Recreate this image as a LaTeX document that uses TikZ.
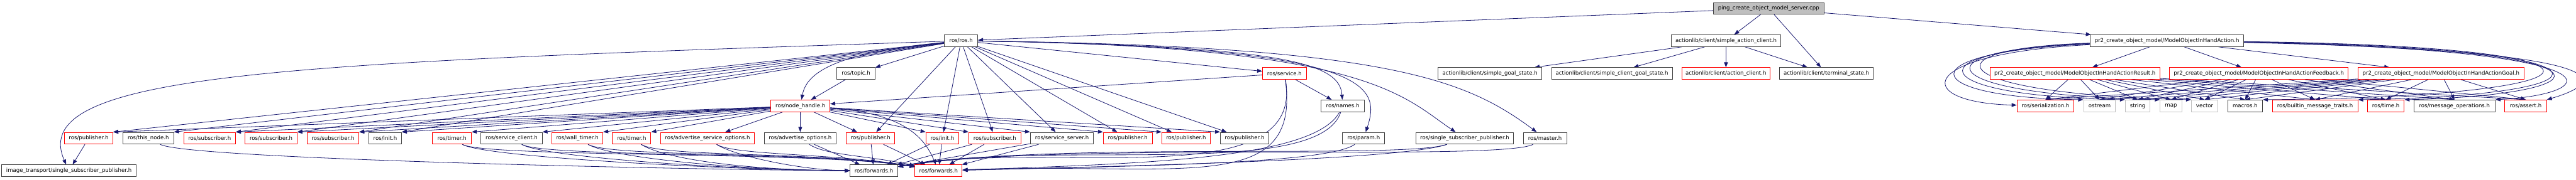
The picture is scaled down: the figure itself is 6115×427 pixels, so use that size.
\documentclass[tikz,border=0pt]{standalone}
\usepackage{fontspec}
\newfontfamily\djv{DejaVu Sans}
\usetikzlibrary{arrows.meta,backgrounds}
\definecolor{edgec}{HTML}{191970}
\definecolor{bred}{HTML}{FF0000}
\definecolor{bblk}{HTML}{404040}
\definecolor{bgry}{HTML}{BFBFBF}
\newcommand\mk[6]{\node[#5, minimum width=#4pt] (#1) at (#2,#3) {#6};}
\begin{document}
\begin{tikzpicture}[x=1pt,y=-1pt,
 box/.style={draw=bblk, fill=white, line width=1.4pt, minimum height=28pt, inner sep=0pt, font=\djv\fontsize{12.8}{15}\selectfont, text=black},
 rbox/.style={box, draw=bred},
 gbox/.style={box, draw=bgry},
 rootbox/.style={box, fill=bgry},
 edge/.style={draw=edgec, line width=1.2pt, -{Triangle[length=12pt,width=9pt]}}]
\useasboundingbox (0,0) rectangle (6115,427);
% rank 0-1
\mk{root}{4198.5}{20}{263}{rootbox}{ping\_create\_object\_model\_server.cpp}
\mk{ros}{2281.5}{97}{79}{box}{ros/ros.h}
\mk{sac}{4097.5}{97}{259}{box}{actionlib/client/simple\_action\_client.h}
\mk{act}{5144}{97}{364}{box}{pr2\_create\_object\_model/ModelObjectInHandAction.h}
% rank 2
\mk{topic}{2032}{175}{90}{box}{ros/topic.h}
\mk{srv}{3049}{175}{104}{rbox}{ros/service.h}
\mk{sgs}{3537}{175}{246}{box}{actionlib/client/simple\_goal\_state.h}
\mk{scgs}{3826.5}{175}{287}{box}{actionlib/client/simple\_client\_goal\_state.h}
\mk{ac}{4097}{175}{210}{rbox}{actionlib/client/action\_client.h}
\mk{term}{4335.5}{175}{223}{box}{actionlib/client/terminal\_state.h}
\mk{res}{4925.5}{175}{403}{rbox}{pr2\_create\_object\_model/ModelObjectInHandActionResult.h}
\mk{fbk}{5362}{175}{424}{rbox}{pr2\_create\_object\_model/ModelObjectInHandActionFeedback.h}
\mk{goal}{5794.5}{175}{393}{rbox}{pr2\_create\_object\_model/ModelObjectInHandActionGoal.h}
% rank 3
\mk{nh}{1900}{252}{140}{rbox}{ros/node\_handle.h}
\mk{names}{3187.5}{252}{103}{box}{ros/names.h}
\mk{ser}{4855.5}{252}{135}{rbox}{ros/serialization.h}
\mk{ost}{4984}{252}{76}{gbox}{ostream}
\mk{str}{5074.5}{252}{59}{gbox}{string}
\mk{map}{5153.5}{252}{51}{gbox}{map}
\mk{vec}{5233.5}{252}{63}{gbox}{vector}
\mk{mac}{5329.5}{252}{83}{box}{macros.h}
\mk{bmt}{5495.5}{252}{203}{rbox}{ros/builtin\_message\_traits.h}
\mk{time}{5663.5}{252}{87}{rbox}{ros/time.h}
\mk{mop}{5826.5}{252}{193}{box}{ros/message\_operations.h}
\mk{ast}{5995.5}{252}{99}{rbox}{ros/assert.h}
% rank 4
\mk{pA}{210.5}{329}{115}{rbox}{ros/publisher.h}
\mk{tn}{352}{329}{120}{box}{ros/this\_node.h}
\mk{sA}{497.5}{329}{123}{rbox}{ros/subscriber.h}
\mk{sB}{643.5}{329}{123}{rbox}{ros/subscriber.h}
\mk{sC}{790.5}{329}{123}{rbox}{ros/subscriber.h}
\mk{iA}{914.5}{329}{77}{box}{ros/init.h}
\mk{tA}{1073}{329}{92}{rbox}{ros/timer.h}
\mk{sc}{1214.5}{329}{145}{box}{ros/service\_client.h}
\mk{wt}{1370.5}{329}{121}{rbox}{ros/wall\_timer.h}
\mk{tB}{1499.5}{329}{91}{rbox}{ros/timer.h}
\mk{aso}{1679.5}{329}{223}{rbox}{ros/advertise\_service\_options.h}
\mk{ao}{1899.5}{329}{171}{box}{ros/advertise\_options.h}
\mk{pB}{2066.5}{329}{115}{rbox}{ros/publisher.h}
\mk{iB}{2237}{329}{78}{rbox}{ros/init.h}
\mk{sD}{2361.5}{329}{123}{rbox}{ros/subscriber.h}
\mk{ss}{2521}{329}{150}{box}{ros/service\_server.h}
\mk{pC}{2677}{329}{116}{rbox}{ros/publisher.h}
\mk{pD}{2815.5}{329}{115}{rbox}{ros/publisher.h}
\mk{pE}{2954.5}{329}{115}{box}{ros/publisher.h}
\mk{param}{3237}{329}{100}{box}{ros/param.h}
\mk{ssp}{3477}{329}{232}{box}{ros/single\_subscriber\_publisher.h}
\mk{master}{3667.5}{329}{103}{box}{ros/master.h}
% rank 5
\mk{it}{163.5}{406.5}{319}{box}{image\_transport/single\_subscriber\_publisher.h}
\mk{fb}{2074.5}{406.5}{113}{box}{ros/forwards.h}
\mk{fr}{2228}{406.5}{112}{rbox}{ros/forwards.h}

\begin{pgfonlayer}{background}
% root
\foreach \tg in {ros,sac,term,act} \draw[edge] (root) -- (\tg);
\foreach \tg in {sgs,scgs,ac,term} \draw[edge] (sac) -- (\tg);
% ros.h
\draw[edge] (ros) .. controls (700,150) and (60,170) .. (it);
\foreach \tg in {pA,tn,sA,sB,sC,iA} \draw[edge] (ros) -- (\tg.north east);
\draw[edge] (ros) -- (topic);
\draw[edge] (ros) .. controls (1990,125) and (1915,170) .. (nh);
\foreach \tg in {pB,iB,sD,ss,pC,pD,pE,srv} \draw[edge] (ros) -- (\tg);
\draw[edge] (ros) .. controls (3050,110) and (3180,150) .. (names);
\draw[edge] (ros) .. controls (3250,112) and (3280,200) .. (param);
\draw[edge] (ros) .. controls (3250,110) and (3330,230) .. (ssp);
\draw[edge] (ros) .. controls (3300,110) and (3480,190) .. (master);
% node_handle
\foreach \tg in {pA,sA,sB,sC,iA,tA,sc,wt,tB} \draw[edge] (nh) -- (\tg.north east);
\foreach \tg in {aso,ao,pB} \draw[edge] (nh) -- (\tg);
\foreach \tg in {iB,sD,ss,pC,pD,pE} \draw[edge] (nh) -- (\tg.north west);
\draw[edge] (nh) .. controls (2150,270) and (2195,330) .. (fr);
\draw[edge] (topic) -- (nh);
% service.h
\draw[edge] (srv) -- (nh);
\draw[edge] (srv) -- (names);
\draw[edge] (srv) .. controls (3090,470) and (2800,385) .. (fr);
\draw[edge] (srv) .. controls (3100,470) and (2500,330) .. (fb);
% names, param, single_subscriber_publisher, master
\draw[edge] (names) .. controls (3120,380) and (2700,390) .. (fr);
\draw[edge] (names) .. controls (3130,430) and (2500,330) .. (fb);
\draw[edge] (param) .. controls (3150,390) and (2700,395) .. (fr);
\draw[edge] (ssp) .. controls (3330,380) and (2700,395) .. (fr);
\draw[edge] (ssp) .. controls (3330,380) and (2500,335) .. (fb);
\draw[edge] (master) .. controls (3560,385) and (2500,335) .. (fb);
% near forwards
\foreach \sr in {pB,iB,sD,ss} {\draw[edge] (\sr) -- (fb); \draw[edge] (\sr) -- (fr);}
\draw[edge] (ao) -- (fb);
\draw[edge] (ao) .. controls (1960,370) and (2060,370) .. (fr);
\draw[edge] (aso) .. controls (1740,370) and (1900,405) .. (fb);
\draw[edge] (aso) .. controls (1740,370) and (1990,365) .. (fr);
\foreach \sr/\px in {tA/1150,sc/1290,wt/1450,tB/1570} {
  \draw[edge] (\sr) .. controls (\px,375) and (1750,405) .. (fb);
  \draw[edge] (\sr) .. controls (\px,375) and (1950,360) .. (fr);
}
\draw[edge] (tn) .. controls (450,380) and (1700,405) .. (fb);
\draw[edge] (pA) -- (it);
% message headers
\foreach \tg in {res,fbk,goal} \draw[edge] (act) -- (\tg);
\foreach \sr in {res,fbk,goal}
  \foreach \tg in {ser,ost,str,map,vec,mac,bmt,time,mop,ast}
    \draw[edge] (\sr) -- (\tg.north);
\draw[edge] (act) .. controls (4540,128) and (4540,244) .. (ser);
\draw[edge] (act) .. controls (4520,124) and (4550,232) .. (ost.north west);
\draw[edge] (act) .. controls (4530,121) and (4565,229) .. (str.north west);
\draw[edge] (act) .. controls (4540,118) and (4580,226) .. (map.north west);
\draw[edge] (act) .. controls (4560,115) and (4610,224) .. (vec.north west);
\draw[edge] (act) .. controls (6300,110) and (6230,230) .. (mac.north east);
\draw[edge] (act) .. controls (6290,113) and (6215,228) .. (bmt.north east);
\draw[edge] (act) .. controls (6275,116) and (6195,226) .. (time.north east);
\draw[edge] (act) .. controls (6255,119) and (6175,224) .. (mop.north east);
\draw[edge] (act) .. controls (6240,122) and (6190,195) .. (ast.north east);
\end{pgfonlayer}
\end{tikzpicture}
\end{document}
